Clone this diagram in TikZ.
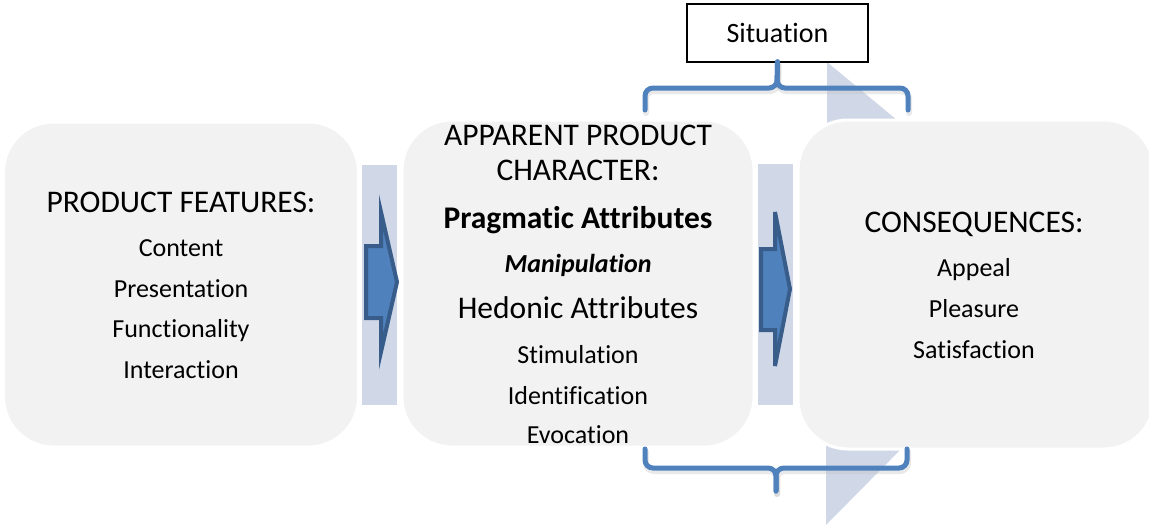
\documentclass[tikz,border=0pt]{standalone}
\usepackage{fontspec}
\setmainfont{Carlito}[Ligatures=NoCommon]
\definecolor{boxfill}{HTML}{F2F2F2}
\definecolor{band}{HTML}{D0D8E8}
\definecolor{accent}{HTML}{4F81BD}
\definecolor{accentdark}{HTML}{385D8A}
\tikzset{
  card/.style={fill=boxfill, draw=white, line width=3pt, rounded corners=50pt},
  bandbox/.style={fill=band, draw=none},
  head/.style={anchor=base, inner sep=0pt, font=\fontsize{31.5}{36}\selectfont},
  item/.style={anchor=base, inner sep=0pt, font=\fontsize{26}{30}\selectfont},
  blockarrow/.style={fill=accent, draw=accentdark, line width=4pt, line join=miter},
  brace/.style={draw=accent, line width=5pt, line cap=round, rounded corners=8pt},
  braceshadow/.style={draw=black!25, opacity=0.35, line width=6pt, line cap=round, rounded corners=8pt},
  sitbox/.style={draw=black, line width=1.5pt, fill=white, minimum width=181pt, minimum height=58pt, inner sep=0pt, font=\fontsize{28}{32}\selectfont}
}
\begin{document}
\begin{tikzpicture}[x=1pt,y=-1pt]
\useasboundingbox (0,0) rectangle (1149,525);
% background bands and triangles
\path[bandbox] (362,165) rectangle (397,405);
\path[bandbox] (758,164) rectangle (793,405);
\path[bandbox] (827,62) -- (827,125) -- (903,125) -- cycle;
\path[bandbox] (826,440) -- (910,440) -- (826,525) -- cycle;
% boxes
\node[card, minimum width=355pt, minimum height=325pt] (pf) at (181,284.5) {};
\node[card, minimum width=352pt, minimum height=327pt] (apc) at (578,283.5) {};
\node[card, minimum width=356pt, minimum height=329pt] (cons) at (976,284.5) {};
% left texts
\node[head] (pf0) at (181,212) {PRODUCT FEATURES:};
\node[item] (pf1) at (181,256) {Content};
\node[item] (pf2) at (181,297) {Presentation};
\node[item] (pf3) at (181,337) {Functionality};
\node[item] (pf4) at (181,378) {Interaction};
% middle texts
\node[head] (apc0) at (578,145) {APPARENT PRODUCT};
\node[head] (apc1) at (578,180) {CHARACTER:};
\node[head, font=\fontsize{31.5}{36}\selectfont\bfseries] (apc2) at (578,228) {Pragmatic Attributes};
\node[item, font=\fontsize{26}{30}\selectfont\bfseries\itshape] (apc3) at (578,272) {Manipulation};
\node[head] (apc4) at (578,318) {Hedonic Attributes};
\node[item] (apc5) at (578,363) {Stimulation};
\node[item] (apc6) at (578,404) {Identification};
\node[item] (apc7) at (578,443) {Evocation};
% right texts
\node[head] (c0) at (974,232) {CONSEQUENCES:};
\node[item] (c1) at (974,276) {Appeal};
\node[item] (c2) at (974,317) {Pleasure};
\node[item] (c3) at (974,358) {Satisfaction};
% block arrows
\path[blockarrow] (366,246) -- (381,246) -- (381,212) -- (397,282) -- (381,352) -- (381,318) -- (366,318) -- cycle;
\path[blockarrow] (761,249) -- (775,249) -- (775,212) -- (790,289) -- (775,366) -- (775,330) -- (761,330) -- cycle;
% situation
\node[sitbox] (sit) at (777.5,33) {Situation};
% braces
\coordinate (tl) at (645,110);
\coordinate (tr) at (908,110);
\coordinate (bl) at (645,449);
\coordinate (br) at (907,449);
\coordinate (bs) at (776,491);
\draw[braceshadow] ([shift={(1,3)}]tl) -- (646,91) -- (778,91) -- ([shift={(1,3)}]sit.south);
\draw[braceshadow] ([shift={(1,3)}]tr) -- (909,91) -- (778,91) -- ([shift={(1,3)}]sit.south);
\draw[braceshadow] ([shift={(1,3)}]bl) -- (646,471) -- (777,471) -- ([shift={(1,3)}]bs);
\draw[braceshadow] ([shift={(1,3)}]br) -- (908,471) -- (777,471) -- ([shift={(1,3)}]bs);
\draw[brace] (tl) -- (645,88) -- (777,88) -- ([yshift=1pt]sit.south);
\draw[brace] (tr) -- (908,88) -- (777,88) -- ([yshift=1pt]sit.south);
\draw[brace] (bl) -- (645,468) -- (776,468) -- (bs);
\draw[brace] (br) -- (907,468) -- (776,468) -- (bs);
\end{tikzpicture}
\end{document}
